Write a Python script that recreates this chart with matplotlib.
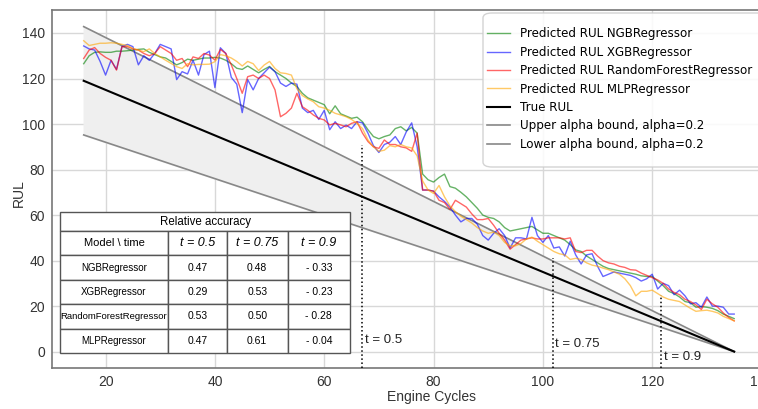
import numpy as np
import matplotlib
matplotlib.use("Agg")
import matplotlib.pyplot as plt
from matplotlib.patches import FancyBboxPatch

plt.rcParams['font.family'] = ['Liberation Sans', 'DejaVu Sans']

# engine cycles 16..135, one prediction per cycle
cycles = np.arange(16, 136)

ngb = [126.5, 130, 131.5, 131.7, 131.5, 131.5, 132, 132, 132.2, 132.5,
       132.8, 133, 131.5, 130.5, 129.5, 129, 127.5, 126, 127, 128.5,
       128, 128.5, 129, 129, 129.3, 129, 128, 126.5, 124.5, 124,
       125.5, 124, 122.5, 124, 125.3, 123, 121.5, 120, 118, 116.5,
       113.5, 111.5, 110.5, 109.5, 108.5, 104.5, 108, 104.5, 103.5, 102.5,
       103, 101, 97.5, 94.5, 93.5, 94.5, 95.2, 98, 98.8, 97,
       98.5, 96, 78, 75.5, 74.5, 76.5, 78, 72.5, 71.8, 70,
       68, 65.5, 63, 60, 59, 58.5, 57, 54.5, 53, 53.5,
       54, 54.5, 55, 53.5, 52, 52, 51, 50, 49, 47,
       44.7, 44, 42, 40.5, 39, 37.5, 36.5, 36, 35.5, 35,
       34.5, 34, 33.3, 33, 33, 31, 29, 26.5, 25.5, 24,
       22, 21.5, 19.5, 19.8, 19.5, 19, 18, 16.5, 15.5, 14.5]

xgb = [134.3, 133, 132.5, 127.5, 121.5, 128, 124, 134, 135, 134,
       126, 130, 128, 131, 135, 134, 133, 119.5, 123, 122,
       128, 121.5, 130.5, 132, 116, 133.5, 131, 120.5, 117.5, 105,
       119.5, 115, 120, 122.5, 125, 123, 118, 116.5, 118, 117.5,
       107, 105, 106, 102, 106, 97.5, 101, 98, 99.5, 98,
       101, 100.5, 96, 90.5, 87.5, 91, 92, 94.5, 91, 96.5,
       100.5, 90, 71, 71, 70.5, 68, 66, 63.5, 60, 57,
       58.5, 58.5, 56, 51, 49, 52, 54, 51, 45.5, 50,
       50, 49.5, 59, 51, 48, 51, 45.5, 46, 42, 48.5,
       42.5, 38.5, 42.5, 43, 37.5, 33, 34, 35, 34.5, 34,
       33.5, 32.5, 31, 32, 34, 27.5, 30, 29, 25, 27,
       24.5, 21, 21.5, 19.5, 24, 20, 20, 19.5, 16.5, 16.5]

rf = [128.8, 132.5, 133.6, 131, 129.3, 128, 123.7, 134, 134, 133,
      132.5, 131, 130, 131, 134, 132.5, 131, 128, 128.8, 125.2,
      129.5, 128.8, 131, 130.3, 128.1, 132.8, 131, 126, 120, 113.5,
      120.8, 121.5, 120, 121.5, 120, 115, 103.2, 104.7, 107, 113.5,
      107.6, 106, 104, 102.5, 101.8, 99.6, 100.3, 99.6, 98.8, 100.3,
      101, 96, 92.3, 90, 89.3, 93, 91, 91, 90, 89.5,
      88, 96, 71, 71, 70.5, 66.5, 65.5, 62.5, 66.5, 65,
      63.5, 60.5, 58, 58, 58.5, 55.5, 52, 49, 45, 47,
      49, 49.5, 50, 49.5, 49.5, 50, 50, 50, 49.5, 50,
      44, 43.5, 44.5, 44.5, 42, 40, 39, 38.5, 37.5, 37,
      36, 35.8, 34.5, 33.5, 32.5, 31.5, 30, 27.5, 26, 25,
      23, 22, 20.5, 18.5, 23, 21, 19.5, 17, 15, 13.5]

mlp = [136.6, 134.5, 135, 135.5, 135.5, 135.7, 135.5, 135, 134.5, 133.2,
       132.5, 131.8, 133, 131, 129.5, 128, 126.6, 125.2, 124.4, 126.5,
       126, 126.2, 126.2, 126.3, 127.4, 130.5, 130, 129, 127.5, 125.5,
       127.5, 126.5, 123.5, 125.9, 127.5, 124.4, 122.5, 122.2, 121.5, 115.5,
       112.5, 111, 109.8, 107.6, 107, 106, 104.7, 104, 103.2, 102,
       100.3, 98, 93, 90, 88, 88.5, 90.5, 90, 91, 90,
       89.5, 86, 75, 71, 69.5, 73, 68, 64, 61.5, 59.5,
       58, 56.5, 54.5, 53, 52, 52.5, 51, 48, 46.5, 46.5,
       47.5, 49.5, 50.3, 48.5, 47, 45.5, 44, 43, 42.5, 40.5,
       41, 40.5, 39, 38, 37.5, 36.7, 36, 35, 34, 32,
       29, 24.5, 26.5, 26.5, 27, 25.5, 24, 23, 22.5, 22,
       20.5, 19, 17.7, 18, 18.2, 17.7, 17, 15.5, 14.5, 13.5]

# true RUL and alpha bounds (straight lines, end points)
line_x = [16, 135]
true_rul = [119, 0]
upper_bound = [142.8, 0]
lower_bound = [95.2, 0]

# relative accuracy markers
t_labels = ['t = 0.5', 't = 0.75', 't = 0.9']
t_cycles = [67, 101.8, 121.7]
t_tops = [91, 41, 25]
t_text_y = [5, 3.5, -2.3]

models = ['NGBRegressor', 'XGBRegressor', 'RandomForestRegressor', 'MLPRegressor']
acc_05 = ['0.47', '0.29', '0.53', '0.47']
acc_075 = ['0.48', '0.53', '0.50', '0.61']
acc_09 = ['- 0.33', '- 0.23', '- 0.28', '- 0.04']

fig = plt.figure(figsize=(7.58, 4.09), dpi=100)
ax = fig.add_axes([52 / 758, 41 / 409, 715 / 758, 358 / 409])

ax.fill_between(line_x, lower_bound, upper_bound, color='#efefef', zorder=1)
ax.plot(cycles, ngb, color='green', alpha=0.6, lw=1, label='Predicted RUL NGBRegressor', zorder=3)
ax.plot(cycles, xgb, color='blue', alpha=0.6, lw=1, label='Predicted RUL XGBRegressor', zorder=3)
ax.plot(cycles, rf, color='red', alpha=0.6, lw=1, label='Predicted RUL RandomForestRegressor', zorder=3)
ax.plot(cycles, mlp, color='orange', alpha=0.6, lw=1, label='Predicted RUL MLPRegressor', zorder=3)
ax.plot(line_x, true_rul, color='black', lw=1.5, label='True RUL', zorder=4)
ax.plot(line_x, upper_bound, color='#888888', lw=1.2, label='Upper alpha bound, alpha=0.2', zorder=2)
ax.plot(line_x, lower_bound, color='#888888', lw=1.2, label='Lower alpha bound, alpha=0.2', zorder=2)

ax.set_xlim(10.2, 141)
ax.set_ylim(-7.2, 150.1)

for tc, top, lab, ty in zip(t_cycles, t_tops, t_labels, t_text_y):
    ax.plot([tc, tc], [-7.2, top], color='black', ls=':', lw=1.1, zorder=5)
    ax.text(tc + 0.4, ty, lab, fontsize=9.5, ha='left', va='center', color='#222222')

ax.set_xticks([20, 40, 60, 80, 100, 120, 140])
ax.set_yticks([0, 20, 40, 60, 80, 100, 120, 140])
ax.tick_params(length=0, labelsize=10, labelcolor='#333333', pad=5)
ax.grid(True, color='#d8d8d8', lw=1)
ax.set_axisbelow(True)
for s in ['left', 'bottom', 'top', 'right']:
    ax.spines[s].set_color('#777777')
    ax.spines[s].set_linewidth(1.2)

ax.set_xlabel('Engine Cycles', fontsize=10, color='#333333')
ax.set_ylabel('RUL', fontsize=10, color='#333333')
ax.xaxis.set_label_coords(0.531, -0.062)
ax.yaxis.set_label_coords(-0.036, 0.49)

# legend frame drawn separately (tall padding as in the source figure)
frame = FancyBboxPatch((483 / 758, 1 - 167 / 409), 320 / 758, 154 / 409,
                       boxstyle='round,pad=0,rounding_size=0.012',
                       transform=fig.transFigure, facecolor='white', alpha=0.85,
                       edgecolor='#cccccc', lw=1, zorder=6)
ax.add_patch(frame)
frame.set_clip_on(False)
leg = ax.legend(loc='upper left', bbox_to_anchor=(487 / 758, 1 - 27.5 / 409),
                bbox_transform=fig.transFigure, borderaxespad=0, borderpad=0,
                prop={'family': 'DejaVu Sans', 'size': 8.6}, labelspacing=0.45,
                handlelength=1.9, handletextpad=0.9, frameon=False)
leg.set_zorder(7)

# relative accuracy table
tl, tw = (60 - 52) / 715, 290 / 715
col_w = [0.372, 0.203, 0.210, 0.215]

title_tab = ax.table(cellText=[['Relative accuracy']], cellLoc='center',
                     bbox=[tl, (368 - 231) / 358, tw, 19 / 358])
title_tab.auto_set_font_size(False)
c = title_tab[0, 0]
c.get_text().set_fontsize(8.3)
c.set_edgecolor('#555555')
c.set_linewidth(1)
title_tab.set_zorder(10)

rows = [['Model \\ time', t_labels[0], t_labels[1], t_labels[2]]]
for m, a, b, d in zip(models, acc_05, acc_075, acc_09):
    rows.append([m, a, b, d])
tab = ax.table(cellText=rows, cellLoc='center', colWidths=col_w,
               bbox=[tl, 15 / 358, tw, 122 / 358])
tab.auto_set_font_size(False)
for (r, col), cell in tab.get_celld().items():
    cell.set_edgecolor('#555555')
    cell.set_linewidth(1)
    txt = cell.get_text()
    if r == 0:
        if col == 0:
            txt.set_fontsize(8)
        else:
            txt.set_fontsize(9)
            txt.set_fontstyle('italic')
    elif col == 0:
        txt.set_fontsize(6.8 if r == 3 else 7)
    else:
        txt.set_fontsize(7.5)
tab.set_zorder(10)

fig.savefig('out.png', dpi=100)
